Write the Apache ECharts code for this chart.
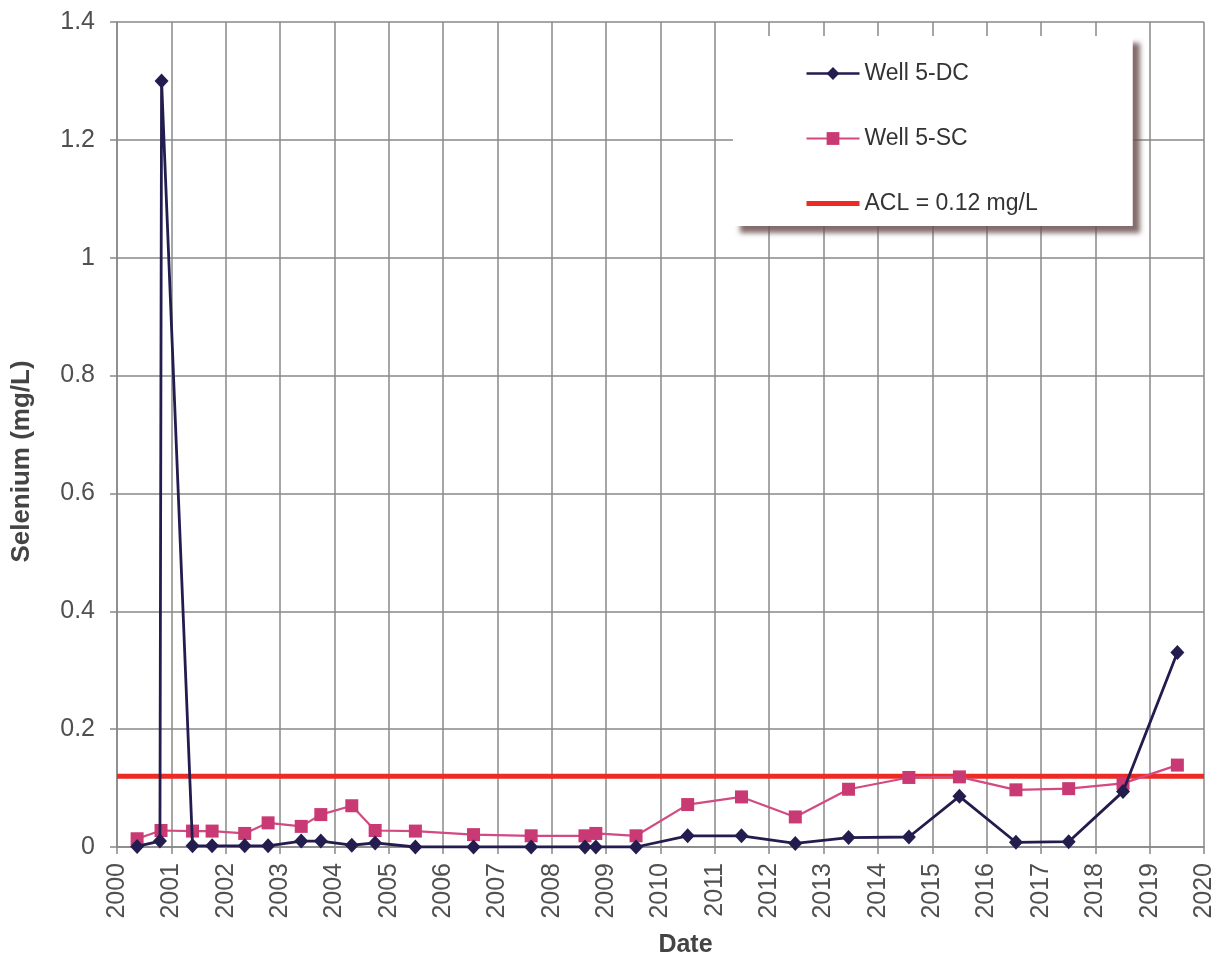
<!DOCTYPE html>
<html>
<head>
<meta charset="utf-8">
<script src="https://cdn.jsdelivr.net/npm/echarts@6/dist/echarts.min.js"></script>
<style>
html,body{margin:0;padding:0;background:#fff;}
#chart{width:1221px;height:963px;}
</style>
</head>
<body>
<div id="chart"></div>
<script>
// ---- data ----
const dcDates = [2000.37, 2000.79, 2000.82, 2001.39, 2001.75, 2002.35, 2002.78, 2003.39, 2003.75, 2004.32, 2004.75, 2005.49, 2006.56, 2007.62, 2008.61, 2008.81, 2009.55, 2010.50, 2011.49, 2012.48, 2013.46, 2014.57, 2015.50, 2016.54, 2017.51, 2018.51, 2019.51];
const dcValues = [0.001, 0.01, 1.3, 0.002, 0.002, 0.002, 0.002, 0.01, 0.01, 0.003, 0.007, 0.0, 0.0, 0.0, 0.0, 0.0, 0.0, 0.019, 0.019, 0.006, 0.016, 0.017, 0.086, 0.008, 0.009, 0.094, 0.33];
const scDates = [2000.37, 2000.81, 2001.39, 2001.75, 2002.35, 2002.78, 2003.39, 2003.75, 2004.32, 2004.75, 2005.49, 2006.56, 2007.62, 2008.61, 2008.81, 2009.55, 2010.50, 2011.49, 2012.48, 2013.46, 2014.57, 2015.50, 2016.54, 2017.51, 2018.51, 2019.51];
const scValues = [0.014, 0.028, 0.027, 0.027, 0.023, 0.041, 0.035, 0.055, 0.070, 0.028, 0.027, 0.021, 0.019, 0.019, 0.023, 0.019, 0.072, 0.085, 0.051, 0.098, 0.118, 0.119, 0.097, 0.099, 0.108, 0.139];
const aclDates = [2000, 2020];
const aclValue = 0.12;
const seriesNames = ['Well 5-DC', 'Well 5-SC', 'ACL = 0.12 mg/L'];
const xTitle = 'Date';
const yTitle = 'Selenium (mg/L)';

const zip = (a, b) => a.map((v, i) => [v, b[i]]);
const FONT = '"Liberation Sans", Arial, sans-serif';
const gridColor = '#888888';
const dcColor = '#221d4e';
const scColor = '#c93a74';
const aclColor = '#ee2a24';

const chart = echarts.init(document.getElementById('chart'), null, {renderer: 'canvas'});
chart.setOption({
  backgroundColor: '#ffffff',
  animation: false,
  grid: {left: 117, right: 17, top: 22, bottom: 112, containLabel: false},
  xAxis: {
    type: 'value', min: 2000, max: 2020, interval: 1,
    name: xTitle, nameLocation: 'middle', nameGap: 86,
    nameTextStyle: {fontFamily: FONT, fontSize: 25, fontWeight: 'bold', color: '#444', padding: [0, 0, 0, 50]},
    axisLine: {show: true, onZero: false, lineStyle: {color: gridColor, width: 1.5}},
    axisTick: {show: true, inside: false, length: 7, lineStyle: {color: gridColor, width: 1.5}},
    axisLabel: {rotate: 90, margin: 16, fontFamily: FONT, fontSize: 25, color: '#505050',
      formatter: v => String(Math.round(v))},
    splitLine: {show: true, lineStyle: {color: gridColor, width: 1.5}}
  },
  yAxis: {
    type: 'value', min: 0, max: 1.4, interval: 0.2,
    name: yTitle, nameLocation: 'middle', nameGap: 82, nameRotate: 90,
    nameTextStyle: {fontFamily: FONT, fontSize: 26, fontWeight: 'bold', color: '#444', padding: [0, 54, 0, 0]},
    axisLine: {show: true, lineStyle: {color: gridColor, width: 1.5}},
    axisTick: {show: true, inside: false, length: 7, lineStyle: {color: gridColor, width: 1.5}},
    axisLabel: {margin: 22, fontFamily: FONT, fontSize: 25, color: '#505050'},
    splitLine: {show: true, lineStyle: {color: gridColor, width: 1.5}}
  },
  legend: {
    orient: 'vertical', left: 733, top: 36,
    data: [
      {name: seriesNames[0], lineStyle: {width: 2.5}},
      {name: seriesNames[1], lineStyle: {width: 2}},
      {name: seriesNames[2], lineStyle: {width: 5}}
    ],
    selectedMode: false,
    itemWidth: 53, itemHeight: 16, itemGap: 42,
    padding: [26, 95, 11, 71],
    backgroundColor: '#ffffff',
    shadowColor: 'rgba(110,82,82,0.85)', shadowBlur: 5, shadowOffsetX: 7, shadowOffsetY: 7,
    textStyle: {fontFamily: FONT, fontSize: 23, color: '#333'}
  },
  series: [
    {
      name: seriesNames[2], type: 'line', data: zip(aclDates, aclDates.map(() => aclValue)),
      symbol: 'line', showSymbol: false, z: 1,
      lineStyle: {color: aclColor, width: 5}, itemStyle: {color: aclColor}
    },
    {
      name: seriesNames[1], type: 'line', data: zip(scDates, scValues),
      symbol: 'rect', symbolSize: 13, z: 2,
      lineStyle: {color: '#d24a80', width: 2.2}, itemStyle: {color: scColor}
    },
    {
      name: seriesNames[0], type: 'line', data: zip(dcDates, dcValues),
      symbol: 'diamond', symbolSize: [14, 15], z: 3,
      lineStyle: {color: dcColor, width: 2.8}, itemStyle: {color: dcColor}
    }
  ]
});
</script>
</body>
</html>
